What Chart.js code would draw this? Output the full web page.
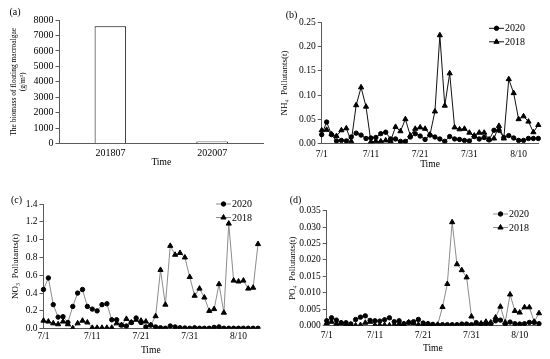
<!DOCTYPE html>
<html>
<head>
<meta charset="utf-8">
<script src="https://cdn.jsdelivr.net/npm/chart.js@4.4.0/dist/chart.umd.min.js"></script>
<style>
  html, body { margin: 0; padding: 0; background: #fff; }
  #wrap { position: relative; width: 550px; height: 359px; overflow: hidden; }
  canvas { position: absolute; }
</style>
</head>
<body>
<div id="wrap">
  <canvas id="chartA" width="275" height="180" style="left:0;top:0"></canvas>
  <canvas id="chartB" width="275" height="180" style="left:275px;top:0"></canvas>
  <canvas id="chartC" width="275" height="179" style="left:0;top:180px"></canvas>
  <canvas id="chartD" width="275" height="179" style="left:275px;top:180px"></canvas>
</div>
<script>
// --- data ---
const biomassMonths = ['201807', '202007'];
const biomass = [7600, 150];

const days = ['7/1','7/2','7/3','7/4','7/5','7/6','7/7','7/8','7/9','7/10',
  '7/11','7/12','7/13','7/14','7/15','7/16','7/17','7/18','7/19','7/20',
  '7/21','7/22','7/23','7/24','7/25','7/26','7/27','7/28','7/29','7/30',
  '7/31','8/1','8/2','8/3','8/4','8/5','8/6','8/7','8/8','8/9',
  '8/10','8/11','8/12','8/13','8/14'];
const dayTicks = ['7/1', '7/11', '7/21', '7/31', '8/10'];

// NH4
const nh4_2020 = [0.018,0.044,0.018,0.005,0.006,0.005,0.013,0.021,0.017,0.010,
  0.011,0.012,0.020,0.023,0.009,0.009,0.004,0.004,0.013,0.020,
  0.015,0.008,0.017,0.013,0.009,0.004,0.014,0.009,0.008,0.006,
  0.005,0.014,0.009,0.012,0.007,0.027,0.027,0.012,0.016,0.011,
  0.006,0.006,0.010,0.010,0.010];
const nh4_2018 = [0.027,0.028,0.019,0.015,0.027,0.031,0.004,0.079,0.116,0.076,
  0.003,0.004,0.004,0.006,0.005,0.034,0.025,0.050,0.016,0.030,
  0.033,0.030,0.018,0.066,0.224,0.078,0.145,0.033,0.029,0.030,
  0.022,0.016,0.022,0.022,0.008,0.010,0.036,0.010,0.133,0.104,
  0.050,0.056,0.045,0.023,0.038];

// NO3
const no3_2020 = [0.44,0.57,0.27,0.13,0.135,0.07,0.25,0.40,0.44,0.25,
  0.22,0.20,0.27,0.28,0.10,0.10,0.04,0.03,0.07,0.12,
  0.07,0.02,0.04,0.02,0.01,0.005,0.03,0.02,0.01,0.008,
  0.005,0.01,0.005,0.005,0.005,0.015,0.02,0.005,0.005,0.005,
  0.005,0.005,0.005,0.005,0.005];
const no3_2018 = [0.09,0.08,0.06,0.05,0.08,0.05,0.005,0.06,0.09,0.07,
  0.01,0.01,0.01,0.01,0.01,0.06,0.04,0.11,0.07,0.10,
  0.09,0.08,0.04,0.14,0.66,0.27,0.93,0.83,0.85,0.80,
  0.58,0.37,0.45,0.35,0.20,0.22,0.50,0.18,1.18,0.54,
  0.53,0.54,0.45,0.46,0.95];

// PO4
const po4_2020 = [0.0015,0.0024,0.0017,0.0009,0.0009,0.0005,0.0019,0.0026,0.0030,0.0016,
  0.0015,0.0014,0.0018,0.0024,0.0012,0.0015,0.0006,0.0010,0.0012,0.0019,
  0.0008,0.0006,0.0004,0.0002,0.0003,0.0003,0.0003,0.0003,0.0005,0.0005,
  0.0003,0.0009,0.0004,0.0006,0.0005,0.0015,0.0017,0.0005,0.0011,0.0006,
  0.0005,0.0006,0.0010,0.0010,0.0006];
const po4_2018 = [0.0008,0.0012,0.0006,0.0008,0.0003,0.0003,0.0001,0.0002,0.0009,0.0012,
  0.0002,0.0002,0.0002,0.0001,0.0002,0.0005,0.0005,0.0010,0.0008,0.0003,
  0.0003,0.0005,0.0002,0.0003,0.0057,0.0127,0.0315,0.0187,0.0169,0.0147,
  0.0028,0.0007,0.0007,0.0012,0.0010,0.0025,0.0058,0.0010,0.0095,0.0045,
  0.0040,0.0056,0.0056,0.0012,0.0038];

const SERIF = "'Liberation Serif', 'Times New Roman', serif";
const TEXT = '#000';
const AXIS = '#5a5a5a';

// small text label like "(a)" in the corner
function panelLabel(text, x, y) {
  return {
    id: 'panelLabel',
    afterDraw(chart) {
      const ctx = chart.ctx;
      ctx.save();
      ctx.font = '10px ' + SERIF;
      ctx.fillStyle = TEXT;
      ctx.textAlign = 'center';
      ctx.textBaseline = 'middle';
      ctx.fillText(text, x, y);
      ctx.restore();
    }
  };
}

// Excel-like legend: line with marker, then the text
function seriesKey(x, y, gap) {
  return {
    id: 'seriesKey',
    afterDraw(chart) {
      const ctx = chart.ctx;
      chart.data.datasets.forEach((ds, i) => {
        const yy = y + i * gap;
        ctx.save();
        ctx.strokeStyle = ds.borderColor;
        ctx.lineWidth = 1;
        ctx.beginPath();
        ctx.moveTo(x, yy);
        ctx.lineTo(x + 15, yy);
        ctx.stroke();
        ctx.fillStyle = '#000';
        ctx.strokeStyle = '#000';
        Chart.helpers.drawPoint(ctx, {
          pointStyle: ds.pointStyle, radius: ds.pointRadius, rotation: 0, borderWidth: 1
        }, x + 7.5, yy);
        ctx.font = '10px ' + SERIF;
        ctx.fillStyle = TEXT;
        ctx.textBaseline = 'middle';
        ctx.fillText(ds.label, x + 16, yy + 0.5);
        ctx.restore();
      });
    }
  };
}

// --- (a) biomass bars ---
new Chart(document.getElementById('chartA'), {
  type: 'bar',
  data: {
    labels: biomassMonths,
    datasets: [{
      data: biomass,
      backgroundColor: '#fff',
      borderColor: '#000',
      borderWidth: 1,
      barPercentage: 0.31,
      categoryPercentage: 1
    }]
  },
  options: {
    responsive: false,
    animation: false,
    layout: { padding: { top: 20, right: 12, left: 0, bottom: 0 } },
    plugins: { legend: { display: false }, tooltip: { enabled: false } },
    scales: {
      x: {
        grid: { display: false, drawTicks: false },
        border: { display: true, color: AXIS },
        ticks: { color: TEXT, font: { family: SERIF, size: 10 }, padding: 4 },
        title: { display: true, text: 'Time', color: TEXT, font: { family: SERIF, size: 9.5 }, padding: { top: 0, bottom: 12 } },
        afterFit: s => { s.height = 180 - 143.7; }
      },
      y: {
        min: 0, max: 8000,
        ticks: { stepSize: 1000, color: TEXT, font: { family: SERIF, size: 10 }, padding: 2, callback: v => String(v) },
        grid: { display: true, drawOnChartArea: false, tickLength: 4, color: AXIS },
        border: { display: true, color: AXIS },
        title: {
          display: true,
          text: ['The biomass of floating macroalgae', '(g/m³)'],
          color: TEXT, font: { family: SERIF, size: 7.5 }, padding: { top: 9.5, bottom: 0 }
        },
        afterFit: s => { s.width = 59.5; }
      }
    }
  },
  plugins: [panelLabel('(a)', 15, 12)]
});

// --- line panels (b), (c), (d) ---
function linePanel(id, cfg) {
  const W = 275, H = cfg.height;
  new Chart(document.getElementById(id), {
    type: 'line',
    data: {
      labels: days,
      datasets: [
        {
          label: '2020', data: cfg.s2020,
          borderColor: cfg.lineColor, borderWidth: 1,
          pointStyle: 'circle', pointRadius: 2.2,
          pointBackgroundColor: '#000', pointBorderColor: '#000', pointBorderWidth: 1,
          tension: 0
        },
        {
          label: '2018', data: cfg.s2018,
          borderColor: cfg.lineColor, borderWidth: 1,
          pointStyle: 'triangle', pointRadius: 3,
          pointBackgroundColor: '#000', pointBorderColor: '#000', pointBorderWidth: 1,
          tension: 0
        }
      ]
    },
    options: {
      responsive: false,
      animation: false,
      layout: { padding: { top: cfg.top, right: W - cfg.right, left: 0, bottom: 0 } },
      plugins: { legend: { display: false }, tooltip: { enabled: false } },
      scales: {
        x: {
          offset: false,
          grid: { display: false, drawTicks: false },
          border: { display: true, color: AXIS },
          ticks: {
            autoSkip: false, maxRotation: 0, padding: cfg.xPad,
            color: TEXT, font: { family: SERIF, size: 9.5 },
            callback: function (v) {
              const d = this.getLabelForValue(v);
              return dayTicks.includes(d) ? d : '';
            }
          },
          title: { display: true, text: 'Time', color: TEXT, font: { family: SERIF, size: 9.5 }, padding: { top: 0, bottom: cfg.timePad } },
          afterFit: s => { s.height = H - cfg.bottom; }
        },
        y: {
          min: 0, max: cfg.max,
          ticks: {
            stepSize: cfg.step, color: TEXT, font: { family: SERIF, size: 9.5 }, padding: 2,
            callback: v => v.toFixed(cfg.digits)
          },
          grid: { display: true, drawOnChartArea: false, tickLength: 4, color: AXIS },
          border: { display: true, color: AXIS },
          title: {
            display: true, text: cfg.yTitle, color: TEXT,
            font: { family: SERIF, size: 9 }, padding: { top: cfg.yTitlePad, bottom: 0 }
          },
          afterFit: s => { s.width = cfg.left; }
        }
      }
    },
    plugins: [panelLabel(cfg.tag, cfg.tagX, cfg.tagY), seriesKey(cfg.keyX, cfg.keyY, 13.5)]
  });
}

linePanel('chartB', {
  height: 180, s2020: nh4_2020, s2018: nh4_2018, lineColor: '#111',
  left: 46.7, right: 263.3, top: 22.7, bottom: 143.3,
  max: 0.25, step: 0.05, digits: 2, yTitle: 'NH\u2084  Pollutants(t)', yTitlePad: 4.6,
  xPad: 5, timePad: 9.6,
  tag: '(b)', tagX: 16.5, tagY: 15, keyX: 214, keyY: 28.3
});

linePanel('chartC', {
  height: 179, s2020: no3_2020, s2018: no3_2018, lineColor: '#8c8c8c',
  left: 43.5, right: 258, top: 24, bottom: 148.7,
  max: 1.4, step: 0.2, digits: 1, yTitle: 'NO\u2083  Pollutants(t)', yTitlePad: 9.9,
  xPad: 2, timePad: 2.9,
  tag: '(c)', tagX: 16.5, tagY: 20, keyX: 216, keyY: 24
});

linePanel('chartD', {
  height: 179, s2020: po4_2020, s2018: po4_2018, lineColor: '#8c8c8c',
  left: 51.7, right: 264, top: 30.7, bottom: 145.7,
  max: 0.035, step: 0.005, digits: 3, yTitle: 'PO\u2084  Pollutants(t)', yTitlePad: 12.3,
  xPad: 4, timePad: 4.6,
  tag: '(d)', tagX: 20.5, tagY: 20, keyX: 218, keyY: 34
});
</script>
</body>
</html>
